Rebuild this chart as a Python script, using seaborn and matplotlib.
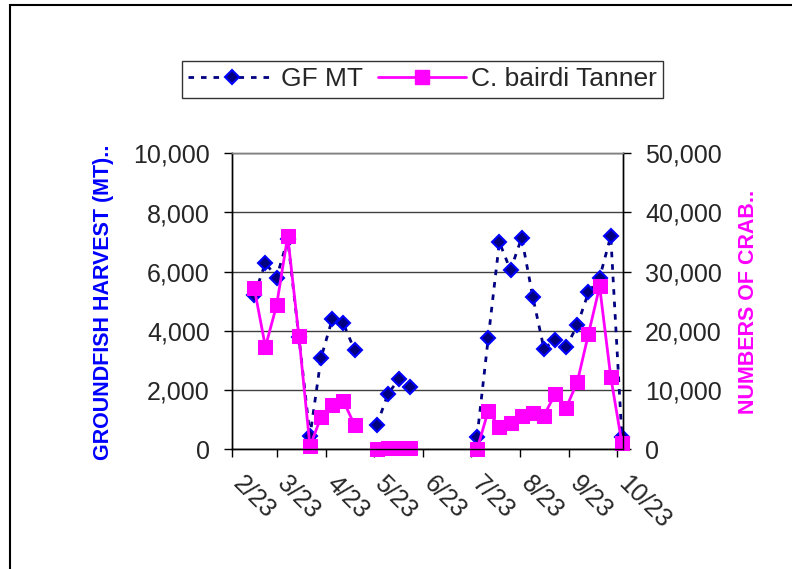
import pandas as pd
import matplotlib
matplotlib.use("Agg")
import matplotlib.pyplot as plt
import matplotlib.transforms as mtrans
from matplotlib.lines import Line2D
from matplotlib.patches import Rectangle
import seaborn as sns

## weekly data, three fishing periods
dates = ['2023-02-15', '2023-02-22', '2023-03-01', '2023-03-08', '2023-03-15',
         '2023-03-22', '2023-03-29', '2023-04-05', '2023-04-12', '2023-04-19',
         '2023-05-03', '2023-05-10', '2023-05-17', '2023-05-24',
         '2023-07-05', '2023-07-12', '2023-07-19', '2023-07-26', '2023-08-02',
         '2023-08-09', '2023-08-16', '2023-08-23', '2023-08-30', '2023-09-06',
         '2023-09-13', '2023-09-20', '2023-09-27', '2023-10-04']
period = [0]*10 + [1]*4 + [2]*14
gf_mt = [5200, 6300, 5800, 7100, 3800, 450, 3100, 4400, 4250, 3350,
         820, 1870, 2380, 2100,
         430, 3750, 7000, 6050, 7150, 5150, 3400, 3700, 3450, 4200, 5300, 5800, 7200, 400]
crab = [27200, 17300, 24300, 36000, 19200, 500, 5500, 7500, 8150, 4100,
        50, 250, 200, 150,
        0, 6500, 3700, 4400, 5600, 6200, 5700, 9300, 7000, 11400, 19500, 27500, 12200, 1000]

month_ticks = ['2023-02-01', '2023-03-01', '2023-04-01', '2023-05-01', '2023-06-01',
               '2023-07-01', '2023-08-01', '2023-09-01', '2023-10-01']
month_labels = ['2/23', '3/23', '4/23', '5/23', '6/23', '7/23', '8/23', '9/23', '10/23']

df = pd.DataFrame({'date': pd.to_datetime(dates), 'period': period,
                   'GF MT': gf_mt, 'crab': crab})

sns.set_style('white')
plt.rcParams['font.family'] = ['Liberation Sans', 'DejaVu Sans']

fig = plt.figure(figsize=(7.92, 5.69), dpi=100)
ax = fig.add_axes([232/792, 1-449.3/569, (622.7-232)/792, (449.3-153.3)/569])
ax2 = ax.twinx()

navy = '#000080'
blue = '#0000FF'
pink = '#FF00FF'

sns.lineplot(data=df, x='date', y='GF MT', units='period', estimator=None, ax=ax,
             color=navy, linestyle=(0, (2, 2.5)), linewidth=2,
             marker='D', markersize=7.5, markerfacecolor=navy,
             markeredgecolor=blue, markeredgewidth=1.5, clip_on=False)
sns.lineplot(data=df, x='date', y='crab', units='period', estimator=None, ax=ax2,
             color=pink, linewidth=2, marker='s', markersize=10.5,
             markerfacecolor=pink, markeredgecolor=pink, clip_on=False)

ax.set_ylim(0, 10000)
ax2.set_ylim(0, 50000)
ax.set_xlim(pd.Timestamp('2023-02-01'), pd.Timestamp('2023-10-04 12:00'))
ax.set_yticks(range(0, 10001, 2000))
ax2.set_yticks(range(0, 50001, 10000))
fmt = matplotlib.ticker.FuncFormatter(lambda v, p: f'{int(v):,}')
ax.yaxis.set_major_formatter(fmt)
ax2.yaxis.set_major_formatter(fmt)

ax.yaxis.grid(True, color='#404040', linewidth=1)
ax.set_axisbelow(True)

for a in (ax, ax2):
    a.tick_params(axis='both', direction='out', length=6, width=1, color='black',
                  labelsize=18, pad=10)
    for s in a.spines.values():
        s.set_color('black')
        s.set_linewidth(1)
    a.spines['top'].set_color('#808080')
ax.tick_params(axis='x', pad=10)
ax.tick_params(left=True, bottom=True)
ax2.tick_params(right=True)

ax.set_xticks(pd.to_datetime(month_ticks))
ax.set_xticklabels(month_labels, rotation=-45, ha='left', va='top',
                   rotation_mode='anchor')
# nudge rotated month labels to the right like the original
shift = mtrans.ScaledTranslation(13/100, 0, fig.dpi_scale_trans)
for lab in ax.get_xticklabels():
    lab.set_transform(lab.get_transform() + shift)

ax.set_xlabel('')
ax.set_ylabel('GROUNDFISH HARVEST (MT)..', color=blue, fontsize=15.5,
              fontweight='bold', va='center')
ax.yaxis.set_label_coords((103.5-232)/(622.7-232), (449.3-302)/(449.3-153.3))
ax2.set_ylabel('NUMBERS OF CRAB..', color=pink, fontsize=15.5,
               fontweight='bold', rotation=90, va='center')
ax2.yaxis.set_label_coords((749-232)/(622.7-232), (449.3-302)/(449.3-153.3))

handles = [Line2D([], [], color=navy, linestyle=(0, (2, 2.5)), linewidth=2,
                  marker='D', markersize=7.5, markerfacecolor=navy,
                  markeredgecolor=blue, markeredgewidth=1.5),
           Line2D([], [], color=pink, linewidth=2, marker='s', markersize=10.5,
                  markerfacecolor=pink, markeredgecolor=pink)]
leg = fig.legend(handles, ['GF MT', 'C. bairdi Tanner'], loc='center',
                 bbox_to_anchor=((178+667)/2/792, 1-79.5/569), ncol=2,
                 fontsize=19, frameon=True, fancybox=False, shadow=False,
                 handlelength=3.3, handletextpad=0.2, columnspacing=0.6,
                 borderpad=0.25, borderaxespad=0)
leg.get_frame().set_edgecolor('black')
leg.get_frame().set_linewidth(1)

fig.add_artist(Rectangle((10/792, -0.05), 1.2, 1-5/569+0.05,
                         transform=fig.transFigure, fill=False,
                         edgecolor='black', linewidth=1.5))

fig.savefig('out.png', dpi=100, facecolor='white')
